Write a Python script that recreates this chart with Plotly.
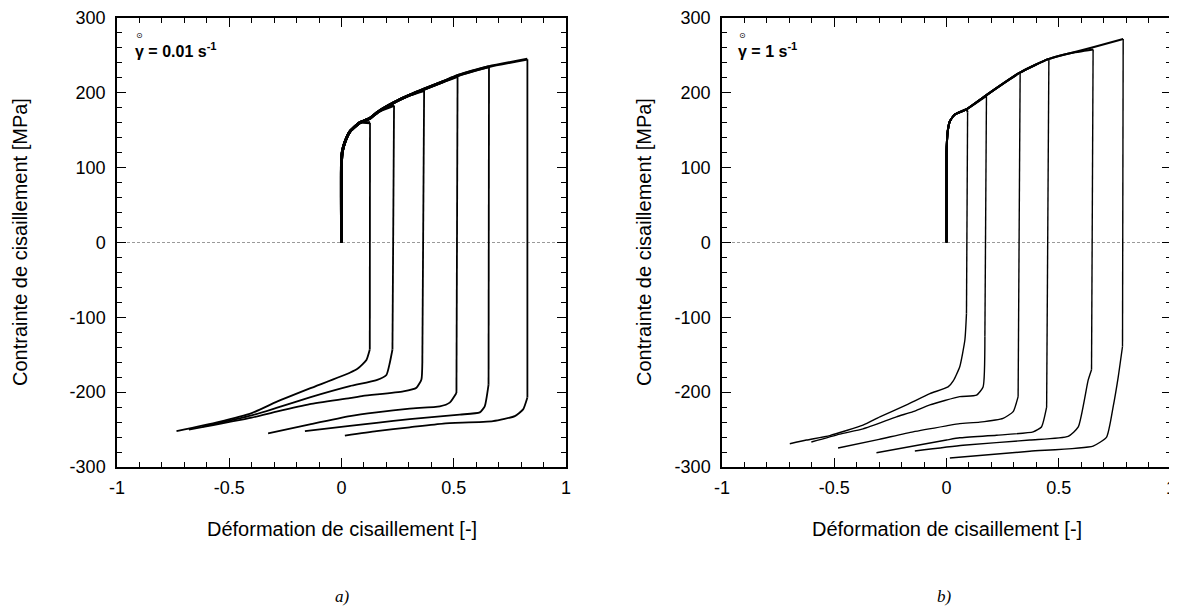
import plotly.graph_objects as go

# ---------------- Panel a) : shear rate 0.01 s^-1 ----------------
a_load_strain = [0, 0, 0.004, 0.015, 0.037, 0.081, 0.127, 0.16, 0.234, 0.304, 0.368, 0.453, 0.517, 0.657, 0.828]
a_load_stress = [0, 108, 122, 134, 148, 160, 166, 174, 187, 197, 205, 215, 223, 235, 245]
a_top_strain = [0.127, 0.234, 0.368, 0.517, 0.657, 0.828]
a_top_stress = [160, 183, 203, 222, 235, 245]

a_rev1_strain = [0.126, 0.111, 0.074, 0.037, -0.141, -0.29, -0.4, -0.55, -0.735]
a_rev1_stress = [-143, -157, -168, -174, -195, -213, -228, -240, -252]
a_rev2_strain = [0.227, 0.215, 0.2, 0.156, 0.037, -0.141, -0.29, -0.4, -0.62]
a_rev2_stress = [-143, -161, -177, -184, -192, -207, -221, -231, -246]
a_rev3_strain = [0.36, 0.356, 0.334, 0.275, 0.096, 0.037, -0.141, -0.29, -0.4, -0.68]
a_rev3_stress = [-161, -183, -194, -199, -205, -208, -216, -226, -234, -250]
a_rev4_strain = [0.512, 0.482, 0.438, 0.304, 0.156, 0.037, -0.141, -0.327]
a_rev4_stress = [-201, -214, -219, -222, -227, -232, -243, -255]
a_rev5_strain = [0.655, 0.638, 0.616, 0.527, 0.304, 0.156, 0.037, -0.163]
a_rev5_stress = [-190, -219, -227, -230, -236, -241, -245, -252]
a_rev6_strain = [0.828, 0.809, 0.772, 0.675, 0.453, 0.304, 0.156, 0.015]
a_rev6_stress = [-207, -223, -232, -238.6, -242, -247, -252, -258]

# ---------------- Panel b) : shear rate 1 s^-1 ----------------
b_load_strain = [0, 0, 0.002, 0.006, 0.015, 0.037, 0.089, 0.178, 0.327, 0.453, 0.55, 0.653, 0.787]
b_load_stress = [0, 120, 135, 150, 162, 171, 178, 197, 227, 245, 253, 261, 272]
b_top_strain = [0.094, 0.178, 0.328, 0.456, 0.653, 0.787]
b_top_stress = [174, 196, 226, 244, 258, 272]

b_rev1_strain = [0.089, 0.082, 0.059, 0.03, 0.007, -0.074, -0.178, -0.297, -0.372, -0.52, -0.624, -0.698]
b_rev1_stress = [-95, -130, -166, -185, -193, -202, -217, -233, -244, -258, -264, -269]
b_rev2_strain = [0.171, 0.163, 0.134, 0.059, -0.074, -0.149, -0.223, -0.372, -0.475, -0.602]
b_rev2_stress = [-126, -193, -204, -206, -217, -226, -233, -249, -256, -266.6]
b_rev3_strain = [0.319, 0.297, 0.252, 0.148, 0.059, 0.0, -0.149, -0.3, -0.483]
b_rev3_stress = [-206, -226, -235, -240, -242, -245, -253, -263, -274.6]
b_rev4_strain = [0.446, 0.423, 0.386, 0.223, 0.059, 0.0, -0.312]
b_rev4_stress = [-220, -246.5, -253, -257.6, -261, -264, -281]
b_rev5_strain = [0.646, 0.631, 0.587, 0.542, 0.371, 0.074, -0.141]
b_rev5_stress = [-170, -184, -246.5, -259, -264, -271, -278.7]
b_rev6_strain = [0.784, 0.765, 0.742, 0.713, 0.653, 0.371, 0.015]
b_rev6_stress = [-139, -179.5, -220, -260, -272, -279, -288]

x_tickvals = [-1, -0.5, 0, 0.5, 1]
x_ticktext = ["-1", "-0.5", "0", "0.5", "1"]
y_tickvals = [-300, -200, -100, 0, 100, 200, 300]
y_ticktext = ["-300", "-200", "-100", "0", "100", "200", "300"]

FONT = "Liberation Sans, Arial, sans-serif"

fig = go.Figure()


def add_panel(load_x, load_y, tops_x, tops_y, revs, xa, ya, width, load_width):
    for (sx, sy), (rx, ry) in zip(zip(tops_x, tops_y), revs):
        lx = [x for x in load_x if x < sx] + [sx]
        ly = [y for x, y in zip(load_x, load_y) if x < sx] + [sy]
        style = dict(color="black", width=width)
        # loading branch
        fig.add_trace(go.Scatter(x=lx, y=ly, mode="lines", xaxis=xa, yaxis=ya,
                                 line=dict(color="black", width=load_width,
                                           shape="spline", smoothing=0.5),
                                 showlegend=False, hoverinfo="skip"))
        # elastic reversal (vertical)
        fig.add_trace(go.Scatter(x=[sx, rx[0]], y=[sy, ry[0]], mode="lines", xaxis=xa, yaxis=ya,
                                 line=style, showlegend=False, hoverinfo="skip"))
        # reverse plastic branch
        fig.add_trace(go.Scatter(x=list(rx), y=list(ry), mode="lines", xaxis=xa, yaxis=ya,
                                 line=dict(style, shape="spline", smoothing=0.5),
                                 showlegend=False, hoverinfo="skip"))


add_panel(a_load_strain, a_load_stress, a_top_strain, a_top_stress,
          [(a_rev1_strain, a_rev1_stress), (a_rev2_strain, a_rev2_stress),
           (a_rev3_strain, a_rev3_stress), (a_rev4_strain, a_rev4_stress),
           (a_rev5_strain, a_rev5_stress), (a_rev6_strain, a_rev6_stress)],
          "x", "y", 1.8, 2.8)
add_panel(b_load_strain, b_load_stress, b_top_strain, b_top_stress,
          [(b_rev1_strain, b_rev1_stress), (b_rev2_strain, b_rev2_stress),
           (b_rev3_strain, b_rev3_stress), (b_rev4_strain, b_rev4_stress),
           (b_rev5_strain, b_rev5_stress), (b_rev6_strain, b_rev6_stress)],
          "x2", "y2", 1.4, 2.0)

# page body adds an 8 px offset; figure is sized so everything stays in view
OFF = 8
W, H = 1177 - OFF, 610 - OFF


def px_x(p):
    return (p - OFF) / W


def px_y(p):
    return 1 - (p - OFF) / H


def xaxis_def(domain, anchor):
    return dict(domain=domain, anchor=anchor, range=[-1, 1], automargin=False,
                tickmode="array", tickvals=x_tickvals, ticktext=x_ticktext,
                ticks="inside", ticklen=9, tickwidth=1.2, tickcolor="black",
                minor=dict(tickmode="linear", tick0=0, dtick=0.1, ticks="inside",
                           ticklen=5, tickwidth=1, tickcolor="black", showgrid=False),
                showline=True, linecolor="black", linewidth=1.5, mirror="allticks",
                showgrid=False, zeroline=False, ticklabelstandoff=4,
                ticklabeloverflow="allow",
                tickfont=dict(family=FONT, size=18, color="black"))


def yaxis_def(domain, anchor):
    return dict(domain=domain, anchor=anchor, range=[-300, 300], automargin=False,
                tickmode="array", tickvals=y_tickvals, ticktext=y_ticktext,
                ticks="inside", ticklen=9, tickwidth=1.2, tickcolor="black",
                minor=dict(tickmode="linear", tick0=0, dtick=20, ticks="inside",
                           ticklen=5, tickwidth=1, tickcolor="black", showgrid=False),
                showline=True, linecolor="black", linewidth=1.5, mirror="allticks",
                showgrid=False, zeroline=False, ticklabelstandoff=6,
                ticklabeloverflow="allow",
                tickfont=dict(family=FONT, size=18, color="black"))


ydom = [px_y(467), px_y(18)]
fig.update_layout(
    template="none",
    width=W, height=H, margin=dict(l=0, r=0, t=0, b=0, pad=0, autoexpand=False),
    paper_bgcolor="white", plot_bgcolor="white", showlegend=False,
    xaxis=xaxis_def([px_x(117), px_x(566)], "y"),
    yaxis=yaxis_def(ydom, "x"),
    xaxis2=xaxis_def([px_x(722), px_x(1171)], "y2"),
    yaxis2=yaxis_def(ydom, "x2"),
)

for xr, yr in (("x", "y"), ("x2", "y2")):
    fig.add_shape(type="line", xref=xr, yref=yr, x0=-1, x1=1, y0=0, y1=0,
                  line=dict(color="#9a9a9a", width=1, dash="3px,2px"), layer="below")

ann = []


def label(text, x, y, size, family=FONT, angle=0, xanchor="center"):
    ann.append(dict(text=text, x=px_x(x), y=px_y(y), xref="paper", yref="paper",
                    xanchor=xanchor, yanchor="middle", showarrow=False, textangle=angle,
                    font=dict(family=family, size=size, color="black")))


for cx, ytx in ((342, 20), (946.5, 644)):
    label("Déformation de cisaillement [-]", cx, 529, 20)
    label("Contrainte de cisaillement [MPa]", ytx, 242, 20, angle=-90)
label("<i>a)</i>", 342, 596, 17, family="Liberation Serif, serif")
label("<i>b)</i>", 944, 596, 17, family="Liberation Serif, serif")
label("<b>γ = 0.01 s<sup>-1</sup></b>", 133, 50, 16, xanchor="left")
label("<b>γ = 1 s<sup>-1</sup></b>", 736, 50, 16, xanchor="left")
label("⊙", 139, 35, 8, family="DejaVu Sans")
label("⊙", 742, 35, 8, family="DejaVu Sans")
fig.update_layout(annotations=ann)

fig.write_html("out.html")
